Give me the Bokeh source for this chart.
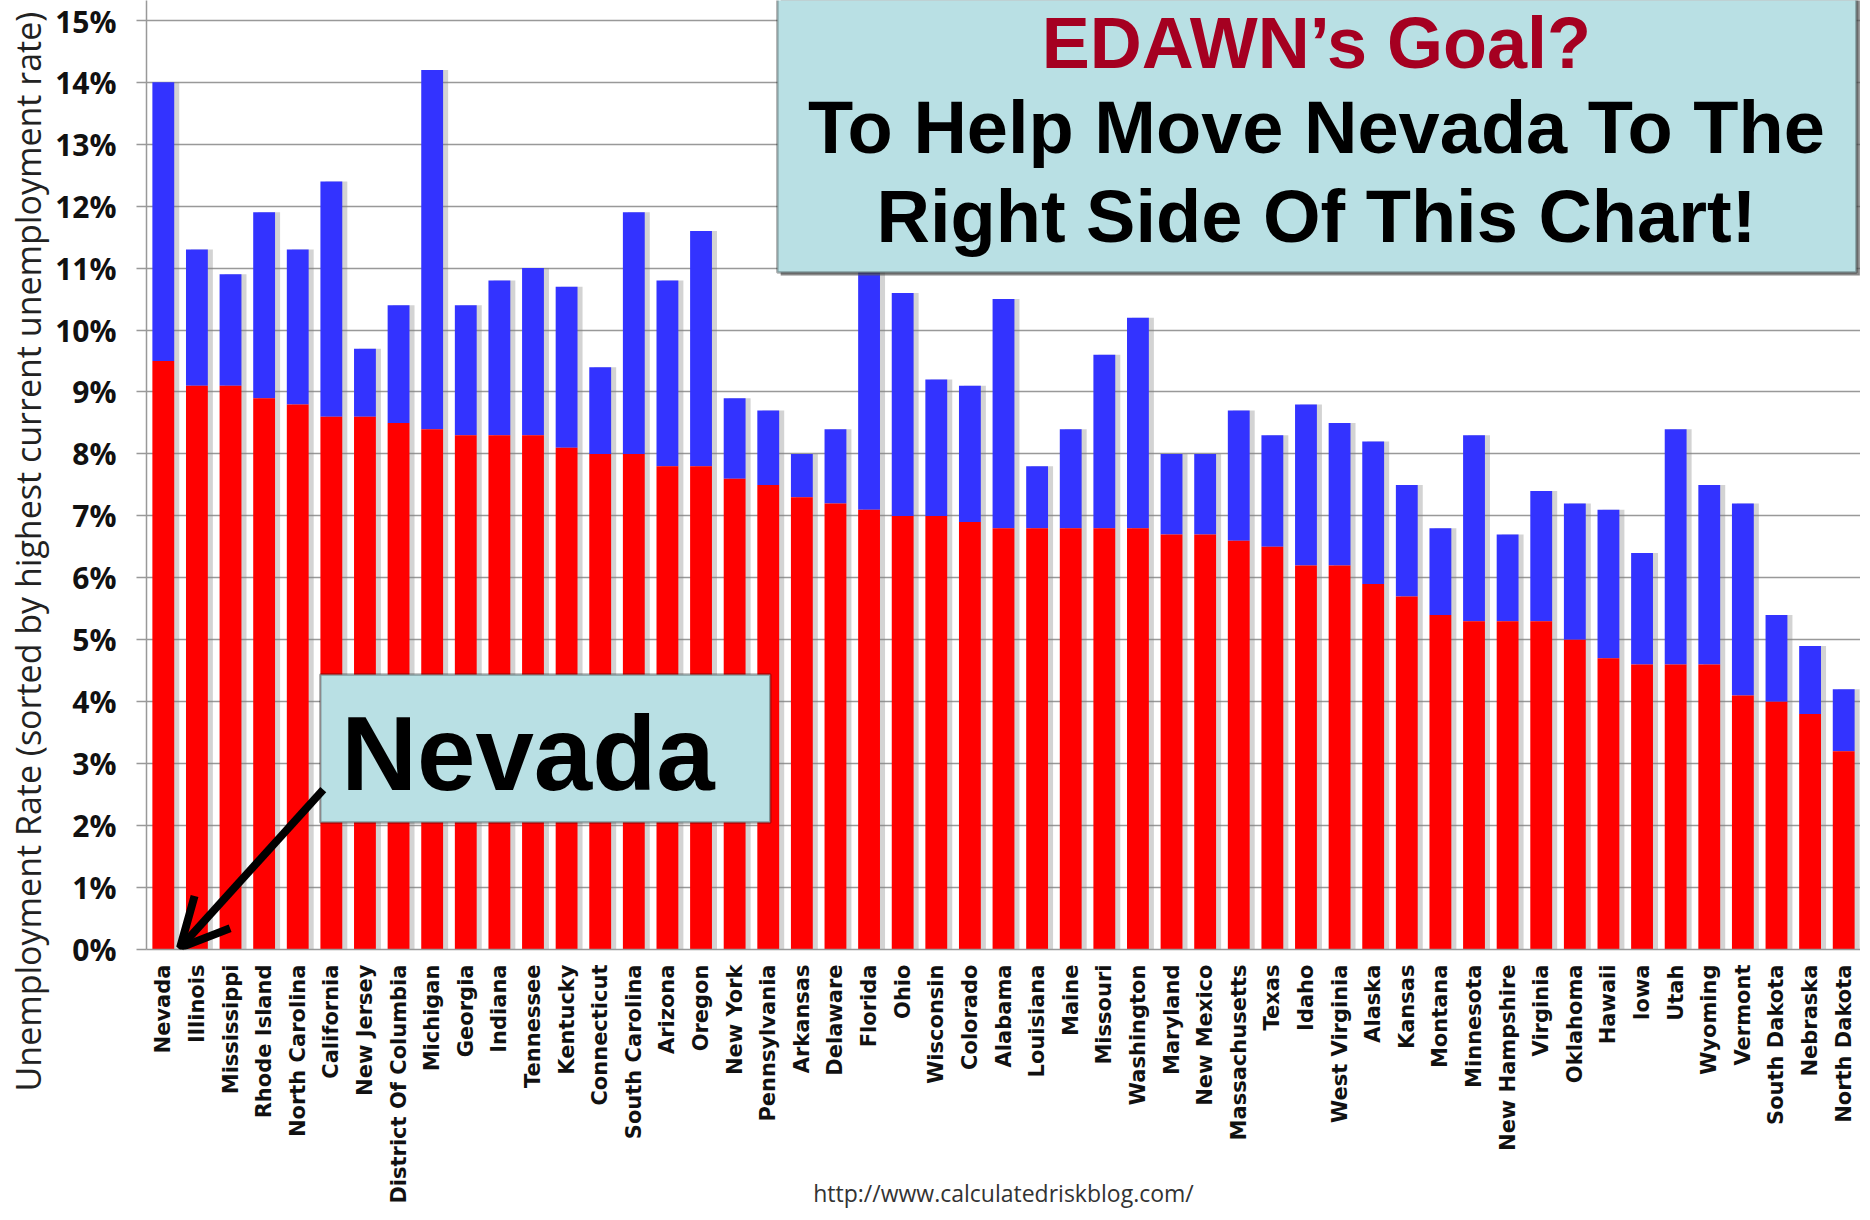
from math import pi
from bokeh.plotting import figure
from bokeh.models import (Range1d, FactorRange, FixedTicker, PrintfTickFormatter, Label, Title,
                          BoxAnnotation, Arrow, OpenHead, ColumnDataSource)
from bokeh.transform import dodge
from bokeh.embed import file_html
from bokeh.resources import INLINE

states = ["Nevada", "Illinois", "Mississippi", "Rhode Island", "North Carolina", "California",
          "New Jersey", "District Of Columbia", "Michigan", "Georgia", "Indiana", "Tennessee",
          "Kentucky", "Connecticut", "South Carolina", "Arizona", "Oregon", "New York",
          "Pennsylvania", "Arkansas", "Delaware", "Florida", "Ohio", "Wisconsin", "Colorado",
          "Alabama", "Louisiana", "Maine", "Missouri", "Washington", "Maryland", "New Mexico",
          "Massachusetts", "Texas", "Idaho", "West Virginia", "Alaska", "Kansas", "Montana",
          "Minnesota", "New Hampshire", "Virginia", "Oklahoma", "Hawaii", "Iowa", "Utah",
          "Wyoming", "Vermont", "South Dakota", "Nebraska", "North Dakota"]

current_rate = [9.5, 9.1, 9.1, 8.9, 8.8, 8.6, 8.6, 8.5, 8.4, 8.3, 8.3, 8.3, 8.1, 8.0, 8.0, 7.8,
                7.8, 7.6, 7.5, 7.3, 7.2, 7.1, 7.0, 7.0, 6.9, 6.8, 6.8, 6.8, 6.8, 6.8, 6.7, 6.7,
                6.6, 6.5, 6.2, 6.2, 5.9, 5.7, 5.4, 5.3, 5.3, 5.3, 5.0, 4.7, 4.6, 4.6, 4.6, 4.1,
                4.0, 3.8, 3.2]

peak_rate = [14.0, 11.3, 10.9, 11.9, 11.3, 12.4, 9.7, 10.4, 14.2, 10.4, 10.8, 11.0, 10.7, 9.4,
             11.9, 10.8, 11.6, 8.9, 8.7, 8.0, 8.4, 11.3, 10.6, 9.2, 9.1, 10.5, 7.8, 8.4, 9.6,
             10.2, 8.0, 8.0, 8.7, 8.3, 8.8, 8.5, 8.2, 7.5, 6.8, 8.3, 6.7, 7.4, 7.2, 7.1, 6.4,
             8.4, 7.5, 7.2, 5.4, 4.9, 4.2]

y_ticks = list(range(0, 16))

y_axis_title = "Unemployment Rate (sorted by highest current unemployment rate)"
source_text = "http://www.calculatedriskblog.com/"
goal_lines = ["EDAWN\u2019s Goal?", "To Help Move Nevada To The", "Right Side Of This Chart!"]
callout_text = "Nevada"

src = ColumnDataSource(dict(state=states, current=current_rate, peak=peak_rate))

p = figure(x_range=FactorRange(factors=states, range_padding=0),
           y_range=Range1d(0, 15.32),
           width=1860, height=1212, output_backend="svg", toolbar_location=None,
           min_border_left=143, min_border_right=0, min_border_top=0, min_border_bottom=263)
p.outline_line_color = None
p.background_fill_color = "white"
p.border_fill_color = "white"

BAR_W = 0.65
# drop shadow
p.vbar(x=dodge("state", 0.15, range=p.x_range), top="peak", width=BAR_W, source=src,
       fill_color="#808080", fill_alpha=0.35, line_color=None)
# peak (blue) and current (red)
p.vbar(x="state", bottom="current", top="peak", width=BAR_W, source=src,
       fill_color="#3333ff", line_color=None)
p.vbar(x="state", top="current", width=BAR_W, source=src,
       fill_color="#ff0000", line_color=None)

p.xgrid.grid_line_color = None
p.ygrid.grid_line_color = "#999999"
p.ygrid.grid_line_width = 1.5
p.ygrid.ticker = FixedTicker(ticks=y_ticks)

p.yaxis.ticker = FixedTicker(ticks=y_ticks)
p.yaxis.formatter = PrintfTickFormatter(format="%d%%")
p.yaxis.major_label_text_font = "Open Sans"
p.yaxis.major_label_text_font_style = "bold"
p.yaxis.major_label_text_font_size = "30px"
p.yaxis.major_label_text_color = "#111111"
p.yaxis.axis_line_color = "#999999"
p.yaxis.axis_line_width = 1.5
p.yaxis.major_tick_line_color = "#999999"
p.yaxis.major_tick_line_width = 1.5
p.yaxis.major_tick_out = 10
p.yaxis.major_tick_in = 0
p.yaxis.minor_tick_line_color = None
p.yaxis.major_label_standoff = 20

p.xaxis.major_label_orientation = pi / 2
p.xaxis.major_label_text_font = "DejaVu Sans"
p.xaxis.major_label_text_font_style = "bold"
p.xaxis.major_label_text_font_size = "21px"
p.xaxis.major_label_text_color = "#111111"
p.xaxis.axis_line_color = "#999999"
p.xaxis.axis_line_width = 1.5
p.xaxis.major_tick_out = 0
p.xaxis.major_tick_in = 0
p.xaxis.major_label_standoff = 15
# source note, tucked under the (short) centre labels
p.xaxis.axis_label = source_text
p.xaxis.axis_label_standoff = -30
p.xaxis.axis_label_text_font = "Open Sans"
p.xaxis.axis_label_text_font_style = "normal"
p.xaxis.axis_label_text_font_size = "23px"
p.xaxis.axis_label_text_color = "#333333"

# y axis title (as a side title so it is not clipped by the frame)
p.add_layout(Title(text=y_axis_title, align="left", offset=-142, standoff=4,
                   text_font="Open Sans", text_font_style="normal",
                   text_font_size="34px", text_color="#222222"), "left")

# goal box
p.add_layout(BoxAnnotation(left=18.87, right=50.98, bottom=10.88, top=16.0,
                           fill_color="#555555", fill_alpha=0.7, line_color=None))
p.add_layout(BoxAnnotation(left=18.77, right=50.88, bottom=10.93, top=16.0,
                           fill_color="#b9e0e4", fill_alpha=1.0,
                           line_color="black", line_width=2.5))
goal_colors = ["#a50021", "black", "black"]
goal_sizes = ["72px", "74px", "74px"]
goal_y = [14.64, 13.27, 11.84]
for txt, col, sz, yy in zip(goal_lines, goal_colors, goal_sizes, goal_y):
    p.add_layout(Label(x=34.81, y=yy, text=txt, text_align="center", text_baseline="alphabetic",
                       text_font="Liberation Sans", text_font_style="bold",
                       text_font_size=sz, text_color=col))

# Nevada callout
p.add_layout(BoxAnnotation(left=5.17, right=18.56, bottom=2.05, top=4.44,
                           fill_color="#b9e0e4", fill_alpha=1.0,
                           line_color="black", line_width=2.5))
p.add_layout(Label(x=11.35, y=3.16, text=callout_text, text_align="center",
                   text_baseline="alphabetic", text_font="Liberation Sans",
                   text_font_style="bold", text_font_size="105px", text_color="black"))
p.add_layout(Arrow(x_start=5.26, y_start=2.58, x_end=1.0, y_end=0.03,
                   line_width=8, line_color="black",
                   end=OpenHead(size=48, line_width=8, line_color="black")))

open("out.html", "w").write(file_html(p, INLINE))
